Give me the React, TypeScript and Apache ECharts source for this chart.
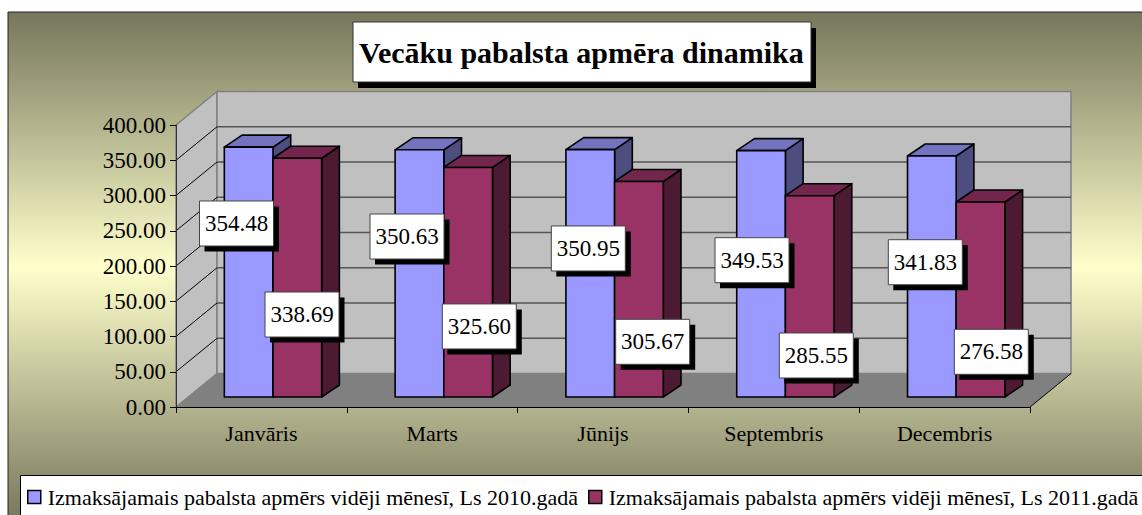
import React, { useEffect, useRef } from "react";
import * as echarts from "echarts";

const months = ["Janvāris", "Marts", "Jūnijs", "Septembris", "Decembris"];
const values2010 = [354.48, 350.63, 350.95, 349.53, 341.83];
const values2011 = [338.69, 325.6, 305.67, 285.55, 276.58];
const name2010 = "Izmaksājamais pabalsta apmērs vidēji mēnesī, Ls 2010.gadā";
const name2011 = "Izmaksājamais pabalsta apmērs vidēji mēnesī, Ls 2011.gadā";
const titleText = "Vecāku pabalsta apmēra dinamika";
const gridValues = [50, 100, 150, 200, 250, 300, 350];

// Hand-placed data label boxes: offset of the box's top-left from the bar's front top junction.
const labelOffsets2010 = [[-73.5, 53.9], [-73.8, 64.2], [-63.3, 76.4], [-70.4, 87.1], [-67.9, 83.7]];
const labelOffsets2011 = [[-8, 133.8], [-1.5, 136.5], [1.1, 137.8], [-6.1, 137.3], [-1.9, 127.3]];

const FONT = "'Liberation Serif', 'Times New Roman', serif";
const WALL_DX = 41;
const WALL_DY = -33.5;
const BAR_SHIFT_X = 11.6;
const BAR_SHIFT_Y = -10;
const BAR_DEPTH_X = 17.7;
const BAR_DEPTH_Y = -12;
const BAR_WIDTH_RATIO = 0.285;

function wallsItem(params: any) {
  const c = params.coordSys;
  const l = c.x, r = c.x + c.width, t = c.y, b = c.y + c.height;
  const dx = WALL_DX, dy = WALL_DY;
  const edge = { stroke: "#808080", lineWidth: 1.5 };
  return {
    type: "group",
    children: [
      { type: "polygon", shape: { points: [[l, t], [l + dx, t + dy], [l + dx, b + dy], [l, b]] }, style: { fill: "#c0c0c0", ...edge } },
      { type: "polygon", shape: { points: [[l + dx, t + dy], [r + dx, t + dy], [r + dx, b + dy], [l + dx, b + dy]] }, style: { fill: "#c0c0c0", ...edge } },
      { type: "polygon", shape: { points: [[l, b], [l + dx, b + dy], [r + dx, b + dy], [r, b]] }, style: { fill: "#808080", stroke: "none" } },
      { type: "line", shape: { x1: r, y1: b, x2: r + dx, y2: b + dy }, style: { stroke: "#000", lineWidth: 1 } },
    ],
  };
}

function gridItem(params: any, api: any) {
  const c = params.coordSys;
  const p = api.coord([0, api.value(0)]);
  const l = c.x, r = c.x + c.width;
  return {
    type: "group",
    children: [
      { type: "line", shape: { x1: l, y1: p[1], x2: l + WALL_DX, y2: p[1] + WALL_DY }, style: { stroke: "#000", lineWidth: 1 } },
      { type: "line", shape: { x1: l + WALL_DX, y1: p[1] + WALL_DY, x2: r + WALL_DX, y2: p[1] + WALL_DY }, style: { stroke: "#555", lineWidth: 1.5 } },
    ],
  };
}

function barRenderer(side: -1 | 1, front: string, top: string, flank: string) {
  return (_params: any, api: any) => {
    const band = api.size([1, 0])[0];
    const w = band * BAR_WIDTH_RATIO;
    const pt = api.coord([api.value(0), api.value(1)]);
    const pb = api.coord([api.value(0), 0]);
    const mid = pt[0] + BAR_SHIFT_X;
    const x0 = side < 0 ? mid - w : mid;
    const x1 = x0 + w;
    const yt = pt[1] + BAR_SHIFT_Y;
    const yb = pb[1] + BAR_SHIFT_Y;
    const ddx = BAR_DEPTH_X, ddy = BAR_DEPTH_Y;
    const line = { stroke: "#000", lineWidth: 1.6, lineJoin: "round" };
    return {
      type: "group",
      children: [
        { type: "polygon", shape: { points: [[x1, yt], [x1 + ddx, yt + ddy], [x1 + ddx, yb + ddy], [x1, yb]] }, style: { fill: flank, ...line } },
        { type: "polygon", shape: { points: [[x0, yt], [x0 + ddx, yt + ddy], [x1 + ddx, yt + ddy], [x1, yt]] }, style: { fill: top, ...line } },
        { type: "rect", shape: { x: x0, y: yt, width: w, height: yb - yt }, style: { fill: front, ...line } },
      ],
    };
  };
}

function labelRenderer(offsets: number[][]) {
  return (params: any, api: any) => {
    const i = params.dataIndex;
    const v = api.value(1);
    const pt = api.coord([api.value(0), v]);
    const bw = 74, bh = 45;
    const x = pt[0] + BAR_SHIFT_X + offsets[i][0];
    const y = pt[1] + BAR_SHIFT_Y + offsets[i][1];
    return {
      type: "group",
      children: [
        { type: "rect", shape: { x: x + 5, y: y + 5.5, width: bw + 0.5, height: bh }, style: { fill: "#000" } },
        { type: "rect", shape: { x, y, width: bw, height: bh }, style: { fill: "#fff", stroke: "#444", lineWidth: 1 } },
        {
          type: "text",
          style: {
            text: v.toFixed(2),
            x: x + bw / 2,
            y: y + bh / 2,
            fill: "#000",
            font: `23px ${FONT}`,
            textAlign: "center",
            textVerticalAlign: "middle",
          },
        },
      ],
    };
  };
}

const toData = (vals: number[]) => vals.map((v, i) => [i, v]);

export default function App() {
  const ref = useRef<HTMLDivElement>(null);
  useEffect(() => {
    const chart = echarts.init(ref.current!, undefined, { renderer: "svg" });
    const legendBase = {
      top: 486,
      orient: "horizontal",
      padding: 0,
      itemWidth: 13,
      itemHeight: 13,
      icon: "rect",
      itemStyle: { borderColor: "#000", borderWidth: 1.5 },
      textStyle: { fontFamily: FONT, fontSize: 22, color: "#000", padding: [0, 0, 0, 2] },
      selectedMode: false,
    };
    chart.setOption({
      animation: false,
      backgroundColor: "#fff",
      title: {
        text: titleText,
        left: 353,
        top: 22,
        padding: [0, 0, 0, 6],
        textStyle: { fontFamily: FONT, fontSize: 30, fontWeight: "bold", color: "#000", lineHeight: 60 },
      },
      grid: { left: 176, right: 112, top: 125, bottom: 108 },
      legend: [
        { ...legendBase, left: 27, data: [name2010] },
        { ...legendBase, left: 588, data: [name2011] },
      ],
      xAxis: {
        type: "category",
        data: months,
        z: 3,
        axisLine: { lineStyle: { color: "#000", width: 1 } },
        axisTick: { show: true, alignWithLabel: false, length: 6, lineStyle: { color: "#000" } },
        axisLabel: { fontFamily: FONT, fontSize: 22, color: "#000", margin: 15 },
        splitLine: { show: false },
      },
      yAxis: {
        type: "value",
        min: 0,
        max: 400,
        interval: 50,
        z: 3,
        axisLine: { show: true, lineStyle: { color: "#333", width: 1 } },
        axisTick: { show: true, length: 6, lineStyle: { color: "#000" } },
        axisLabel: { fontFamily: FONT, fontSize: 23, color: "#000", margin: 10, formatter: (v: number) => v.toFixed(2) },
        splitLine: { show: false },
      },
      graphic: [
        {
          type: "rect",
          z: -1,
          shape: { x: 8, y: 12, width: 1150, height: 510 },
          style: {
            stroke: "#222",
            lineWidth: 1,
            fill: {
              type: "linear", x: 0, y: 0, x2: 0, y2: 1,
              colorStops: [
                { offset: 0, color: "#76765c" },
                { offset: 0.5, color: "#ffffcc" },
                { offset: 1, color: "#76765c" },
              ],
            },
          },
        },
        { type: "rect", z: 0, shape: { x: 20.5, y: 475.5, width: 1140, height: 60 }, style: { fill: "#fff", stroke: "#000", lineWidth: 1 } },
        { type: "rect", z: 0, shape: { x: 358, y: 28, width: 458, height: 60 }, style: { fill: "#000" } },
        { type: "rect", z: 0, shape: { x: 353, y: 22, width: 458, height: 60 }, style: { fill: "#fff", stroke: "#333", lineWidth: 1 } },
      ],
      series: [
        { type: "custom", name: "walls", coordinateSystem: "cartesian2d", silent: true, z: 1, data: [[0, 0]], renderItem: wallsItem },
        { type: "custom", name: "gridlines", coordinateSystem: "cartesian2d", silent: true, z: 1, data: gridValues.map((v) => [v]), encode: { x: -1, y: 0 }, renderItem: gridItem },
        { type: "custom", name: name2010, coordinateSystem: "cartesian2d", z: 2, itemStyle: { color: "#9999ff" }, data: toData(values2010), renderItem: barRenderer(-1, "#9999ff", "#7373bf", "#4d4d80") },
        { type: "custom", name: name2011, coordinateSystem: "cartesian2d", z: 2, itemStyle: { color: "#993366" }, data: toData(values2011), renderItem: barRenderer(1, "#993366", "#73264d", "#4d1a33") },
        { type: "custom", name: "labels2010", coordinateSystem: "cartesian2d", z: 5, data: toData(values2010), renderItem: labelRenderer(labelOffsets2010) },
        { type: "custom", name: "labels2011", coordinateSystem: "cartesian2d", z: 5, data: toData(values2011), renderItem: labelRenderer(labelOffsets2011) },
      ],
    });
    return () => chart.dispose();
  }, []);
  return <div ref={ref} style={{ position: "fixed", left: 0, top: 0, width: 1142, height: 515 }} />;
}
